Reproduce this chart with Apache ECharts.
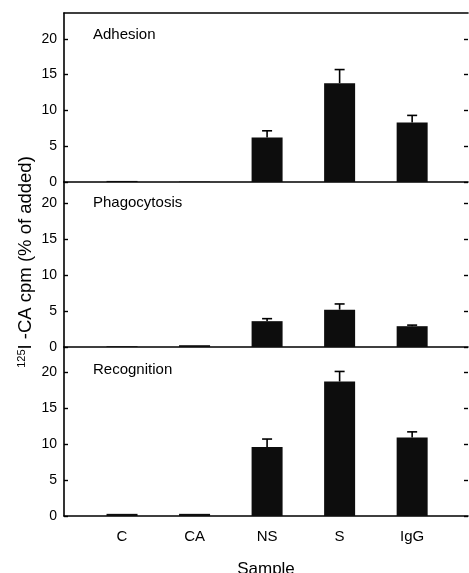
<!DOCTYPE html>
<html>
<head>
<meta charset="utf-8">
<script src="https://cdn.jsdelivr.net/npm/echarts@6/dist/echarts.min.js"></script>
<style>
  html, body { margin: 0; padding: 0; background: #fff; }
  #chart { width: 469px; height: 573px; }
</style>
</head>
<body>
<div id="chart"></div>
<script>
// data
const samples = ['C', 'CA', 'NS', 'S', 'IgG']
const panels = ['Adhesion', 'Phagocytosis', 'Recognition']
const adhesion = [0.15, 0.05, 6.2, 13.8, 8.3]
const adhesionErr = [0, 0, 0.95, 1.9, 1.0]
const phagocytosis = [0.1, 0.25, 3.6, 5.2, 2.9]
const phagocytosisErr = [0, 0, 0.35, 0.8, 0.15]
const recognition = [0.3, 0.3, 9.6, 18.7, 10.9]
const recognitionErr = [0, 0, 1.1, 1.4, 0.8]
const yTicks = [0, 5, 10, 15, 20]

const values = [adhesion, phagocytosis, recognition]
const errors = [adhesionErr, phagocytosisErr, recognitionErr]

const font = 'Liberation Sans'
const grids = [
  { left: 64, right: 1, top: 13, height: 169, outerBoundsMode: 'none' },
  { left: 64, right: 1, top: 182, height: 165, outerBoundsMode: 'none' },
  { left: 64, right: 1, top: 347, height: 169, outerBoundsMode: 'none' }
]
const yMax = [23.6, 23.0, 23.5]

const chart = echarts.init(document.getElementById('chart'))

const xAxes = []
const yAxes = []
const series = []

grids.forEach((g, i) => {
  const last = i === grids.length - 1
  xAxes.push({
    type: 'value',
    gridIndex: i,
    min: -0.8,
    max: 4.77,
    position: 'bottom',
    splitLine: { show: false },
    axisLine: { onZero: false, lineStyle: { color: '#000', width: 1.6 } },
    axisTick: { show: false },
    axisLabel: {
      show: last,
      customValues: [0, 1, 2, 3, 4],
      formatter: (v) => samples[v],
      color: '#000',
      fontFamily: font,
      fontSize: 15,
      margin: 13
    },
    name: last ? 'Sample' : '',
    nameLocation: 'middle',
    nameGap: 45,
    nameTextStyle: { color: '#000', fontFamily: font, fontSize: 17 }
  })
  yAxes.push({
    type: 'value',
    gridIndex: i,
    min: 0,
    max: yMax[i],
    position: 'left',
    splitLine: { show: false },
    axisLine: { show: true, onZero: false, lineStyle: { color: '#000', width: 1.6 } },
    axisTick: { inside: true, length: 4, customValues: yTicks, lineStyle: { color: '#000', width: 1.4 } },
    axisLabel: { customValues: yTicks, color: '#000', fontFamily: font, fontSize: 14, margin: 7 }
  })
  yAxes.push({
    type: 'value',
    gridIndex: i,
    min: 0,
    max: yMax[i],
    position: 'right',
    splitLine: { show: false },
    axisLine: { show: false, onZero: false },
    axisTick: { show: true, inside: true, length: 4, customValues: yTicks, lineStyle: { color: '#000', width: 1.4 } },
    axisLabel: { show: false }
  })

  series.push({
    type: 'bar',
    xAxisIndex: i,
    yAxisIndex: i * 2,
    barWidth: 31,
    itemStyle: { color: '#0d0d0d' },
    data: values[i].map((v, k) => [k, v])
  })
  series.push({
    type: 'custom',
    xAxisIndex: i,
    yAxisIndex: i * 2,
    data: values[i].map((v, k) => [k, v, errors[i][k]]),
    renderItem: (params, api) => {
      const err = api.value(2)
      if (!err) return null
      const base = api.coord([api.value(0), api.value(1)])
      const top = api.coord([api.value(0), api.value(1) + err])
      const style = { stroke: '#000', lineWidth: 1.6 }
      return {
        type: 'group',
        children: [
          { type: 'line', shape: { x1: base[0], y1: base[1], x2: top[0], y2: top[1] }, style },
          { type: 'line', shape: { x1: top[0] - 5, y1: top[1], x2: top[0] + 5, y2: top[1] }, style }
        ]
      }
    }
  })
})

// top frame line of the first panel
xAxes.push({
  type: 'value',
  gridIndex: 0,
  position: 'top',
  min: -0.8,
  max: 4.77,
  splitLine: { show: false },
  axisLine: { onZero: false, lineStyle: { color: '#000', width: 1.6 } },
  axisTick: { show: false },
  axisLabel: { show: false }
})

const titleTops = [27, 195, 362]

chart.setOption({
  animation: false,
  backgroundColor: '#fff',
  grid: grids,
  xAxis: xAxes,
  yAxis: yAxes,
  series: series,
  graphic: panels.map((p, i) => ({
    type: 'text',
    left: 93,
    top: titleTops[i],
    style: { text: p, fill: '#000', font: '15px "Liberation Sans"' }
  })).concat([{
    type: 'text',
    x: 26,
    y: 262,
    rotation: Math.PI / 2,
    style: {
      text: '{sup|125}{n|I -CA cpm (% of added)}',
      align: 'center',
      verticalAlign: 'middle',
      fill: '#000',
      rich: {
        sup: { fontFamily: font, fontSize: 11, verticalAlign: 'top', fill: '#000' },
        n: { fontFamily: font, fontSize: 18.5, fill: '#000' }
      }
    }
  }])
})
</script>
</body>
</html>
